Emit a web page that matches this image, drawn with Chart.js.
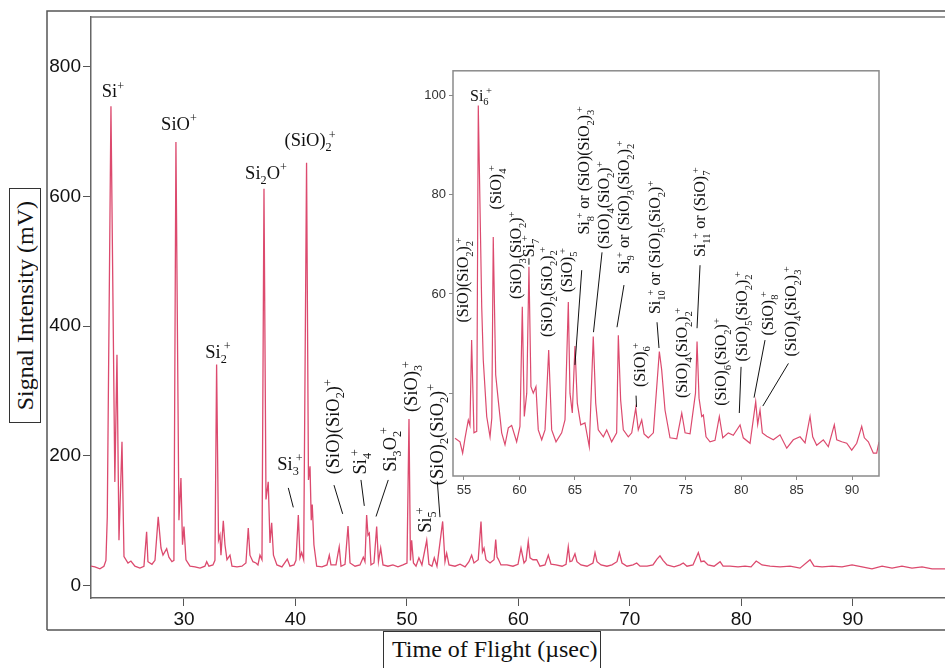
<!DOCTYPE html>
<html><head><meta charset="utf-8">
<script src="https://cdn.jsdelivr.net/npm/chart.js@4.4.0/dist/chart.umd.min.js"></script>
<style>
html,body{margin:0;padding:0;background:#fff;}
#wrap{position:relative;width:945px;height:668px;overflow:hidden;background:#fff;}
#main{position:absolute;left:0;top:0;}
#inset{position:absolute;left:400px;top:60px;}
.ttl{position:absolute;font-family:"Liberation Serif","Times New Roman",serif;color:#111;border:1.5px solid #333;box-sizing:border-box;background:#fff;}
#ytitle{left:9px;top:188px;width:32px;height:235px;display:flex;align-items:center;justify-content:center;}
#ytitle span{writing-mode:vertical-rl;transform:rotate(180deg);font-size:24px;white-space:nowrap;}
#xtitle{left:383px;top:631px;width:218px;height:45px;border-bottom:none;font-size:24px;padding-left:8px;line-height:34px;white-space:nowrap;}
</style></head>
<body>
<div id="wrap">
<canvas id="main" width="945" height="668"></canvas>
<canvas id="inset" width="500" height="450"></canvas>
<div id="ytitle" class="ttl"><span>Signal Intensity (mV)</span></div>
<div id="xtitle" class="ttl">Time of Flight (µsec)</div>
</div>
<script>
// ---------- data ----------
const mainTime = [21.66,22.01,22.46,22.82,23.00,23.12,23.45,23.80,23.99,24.17,24.44,24.62,24.98,25.24,25.60,26.05,26.41,26.65,26.77,27.13,27.40,27.69,27.94,28.12,28.45,28.65,28.92,29.10,29.28,29.55,29.73,29.87,30.00,30.18,30.54,30.99,31.44,31.88,32.04,32.24,32.60,32.78,32.93,33.10,33.23,33.32,33.53,33.68,33.86,34.13,34.31,34.76,35.20,35.56,35.77,35.92,36.19,36.46,36.64,36.82,37.00,37.18,37.36,37.56,37.72,37.87,38.03,38.34,38.79,39.27,39.51,39.87,40.05,40.26,40.41,40.56,40.74,41.00,41.17,41.31,41.42,41.51,41.66,41.91,42.38,42.83,43.04,43.19,43.64,43.93,44.09,44.45,44.72,44.90,45.35,45.79,46.09,46.24,46.39,46.51,46.63,46.78,47.05,47.29,47.45,47.65,47.86,48.30,48.75,49.20,49.65,50.01,50.19,50.32,50.43,50.59,50.82,51.08,51.35,51.78,51.98,52.25,52.46,52.70,53.21,53.42,53.57,53.78,54.32,54.77,55.22,55.57,55.81,56.02,56.40,56.65,56.78,56.92,57.10,57.46,57.82,57.97,58.09,58.20,58.44,58.98,59.52,59.97,60.24,60.51,60.69,60.89,61.05,61.31,61.65,61.94,62.39,62.69,62.93,63.38,63.92,64.28,64.48,64.63,64.81,65.08,65.26,65.62,66.16,66.70,66.88,67.06,67.42,67.95,68.40,68.85,69.06,69.30,69.75,70.29,70.62,70.92,71.55,72.08,72.44,72.71,72.98,73.34,73.97,74.51,74.80,75.13,75.67,76.15,76.39,76.66,77.02,77.56,78.10,78.37,78.99,79.71,80.34,80.88,81.34,81.61,81.86,82.58,83.48,84.38,85.27,86.17,86.53,87.25,88.15,89.04,89.94,90.84,91.73,92.63,93.53,94.42,95.32,96.22,97.12,98.28];
const mainSignal = [30,29,26,30,39,106,739,160,356,70,222,45,35,38,30,27,30,83,37,33,39,106,58,47,57,44,37,39,684,101,166,63,91,40,30,29,27,30,37,30,32,39,341,70,78,47,100,63,40,47,30,29,30,35,89,47,37,35,32,47,40,612,133,160,66,97,47,32,29,41,30,32,39,109,43,51,40,652,163,184,101,125,63,30,29,32,47,32,32,60,30,33,92,35,30,32,44,37,109,78,81,32,35,91,37,58,32,30,32,29,32,35,257,39,70,35,30,43,32,70,33,30,43,30,99,37,50,32,30,33,29,37,47,35,40,99,52,58,40,35,40,71,44,41,32,32,30,33,58,35,39,68,43,40,40,30,32,47,33,32,30,33,60,37,38,49,37,32,30,35,51,37,32,30,32,37,51,35,30,32,35,30,30,32,41,46,39,32,29,32,35,30,32,51,37,38,32,30,37,30,30,29,30,29,38,35,32,30,29,30,27,40,30,29,30,29,32,29,26,30,27,30,27,29,26,26];

const insetTime = [54.19,54.64,54.88,55.09,55.39,55.54,55.69,55.90,56.15,56.29,56.60,56.74,57.05,57.35,57.51,57.64,57.86,58.09,58.40,58.70,59.00,59.30,59.75,60.05,60.26,60.44,60.66,60.86,61.04,61.25,61.49,61.70,62.01,62.31,62.64,62.91,63.30,63.81,64.11,64.41,64.56,64.77,65.01,65.22,65.53,65.91,66.30,66.66,66.88,67.11,67.57,67.87,68.32,68.77,68.92,69.13,69.37,69.82,70.13,70.49,70.72,71.03,71.24,71.62,72.08,72.62,72.83,73.13,73.58,74.19,74.64,74.94,75.39,75.88,76.02,76.20,76.44,76.59,76.83,77.19,77.64,78.03,78.34,78.84,79.29,79.90,80.19,80.80,81.31,81.49,81.70,81.91,82.31,82.90,83.50,84.11,84.70,85.31,85.76,86.21,86.45,86.81,87.41,87.86,88.40,88.62,89.07,89.52,89.97,90.42,90.87,91.11,91.47,91.92,92.22,92.43];
const insetSignal = [30.9,30.2,27.9,30.9,34.6,33.5,50.7,32.0,32.3,98.0,57.4,46.7,35.3,31.2,35.0,71.5,43.7,38.6,32.0,29.6,33.0,33.5,30.2,33.3,57.4,35.3,40.0,65.5,41.3,40.0,41.3,32.6,30.6,32.6,48.7,32.6,30.2,32.0,34.6,58.4,40.0,36.0,49.5,38.0,33.6,34.0,29.2,51.4,38.0,32.6,31.2,32.6,30.2,32.0,51.7,38.6,32.6,31.2,32.0,37.0,32.6,34.6,31.8,31.0,32.0,48.4,44.7,36.6,31.0,30.8,36.0,32.0,31.8,40.0,50.4,39.0,35.3,35.6,31.2,30.2,30.5,35.3,31.0,32.0,31.5,33.6,31.0,29.9,38.3,33.7,36.6,32.0,31.3,30.6,31.6,28.9,30.6,31.2,30.0,35.3,31.2,29.5,30.6,29.2,33.6,30.6,30.2,29.9,28.5,29.9,33.3,31.0,30.2,27.9,27.9,30.2];

const mainXTicks = [30,40,50,60,70,80,90];
const mainYTicks = [0,200,400,600,800];
const insetXTicks = [55,60,65,70,75,80,85,90];
const insetYTicks = [40,60,80,100];
const insetYLabelled = [60,80,100];

// peak annotations (anchor in data units of each chart)
const mainLabels = [
  {t:'Si^{+}', x:23.63, y:762},
  {t:'SiO^{+}', x:29.55, y:712},
  {t:'Si_{2}O^{+}', x:37.36, y:637},
  {t:'(SiO)_{2}^{+}', x:41.31, y:687},
  {t:'Si_{2}^{+}', x:33.05, y:361},
  {t:'Si_{3}^{+}', x:39.51, y:188},
  {t:'(SiO)(SiO_{2})^{+}', x:43.37, y:245, r:1},
  {t:'Si_{4}^{+}', x:45.79, y:191, r:1},
  {t:'Si_{3}O_{2}^{+}', x:48.44, y:210, r:1},
  {t:'(SiO)_{3}^{+}', x:50.37, y:307, r:1},
  {t:'Si_{5}^{+}', x:51.62, y:101, r:1},
  {t:'(SiO)_{2}(SiO_{2})^{+}', x:52.66, y:233, r:1}
];
const mainLeaders = [[39.36,150.7,39.81,120.7],[43.46,155,44.24,110.7],[45.88,163,46.18,123],[48.33,163,47.23,106.6],[52.73,160.6,52.97,105.6]];

const insetLabels = [
  {t:'Si_{6}^{+}', x:56.53, y:100.0},
  {t:'(SiO)(SiO_{2})_{2}^{+}', x:54.91, y:62.8, r:1},
  {t:'(SiO)_{4}^{+}', x:57.89, y:81.5, r:1},
  {t:'(SiO)_{3}(SiO_{2})^{+}', x:59.69, y:67.8, r:1},
  {t:'Si_{7}^{+}', x:60.86, y:69.6, r:1},
  {t:'(SiO)_{2}(SiO_{2})_{2}^{+}', x:62.49, y:60.4, r:1},
  {t:'(SiO)_{5}^{+}', x:64.29, y:64.8, r:1},
  {t:'Si_{8}^{+} or (SiO)(SiO_{2})_{3}^{+}', x:65.82, y:84.9, r:1},
  {t:'(SiO)_{4}(SiO_{2})^{+}', x:67.63, y:77.9, r:1},
  {t:'Si_{9}^{+} or (SiO)_{3}(SiO_{2})_{2}^{+}', x:69.43, y:77.5, r:1},
  {t:'Si_{10}^{+} or (SiO)_{5}(SiO_{2})^{+}', x:72.23, y:69.4, r:1},
  {t:'(SiO)_{6}^{+}', x:70.88, y:45.7, r:1},
  {t:'(SiO)_{4}(SiO_{2})_{2}^{+}', x:74.66, y:48.1, r:1},
  {t:'Si_{11}^{+} or (SiO)_{7}^{+}', x:76.29, y:76.5, r:1},
  {t:'(SiO)_{6}(SiO_{2})^{+}', x:78.18, y:46.3, r:1},
  {t:'(SiO)_{5}(SiO_{2})_{2}^{+}', x:80.08, y:55.5, r:1},
  {t:'(SiO)_{8}^{+}', x:82.42, y:56.1, r:1},
  {t:'(SiO)_{4}(SiO_{2})_{3}^{+}', x:84.5, y:56.5, r:1}
];
const insetLeaders = [[60.86,67.2,60.86,65.9],[65.62,64.8,65.01,45.7],[67.45,68.4,66.68,52.3],[69.43,61.8,68.8,53.3],[72.41,54.3,72.59,49.1],[70.52,39.5,70.56,37.2],[76.29,65.8,76.02,53.1],[79.99,45.3,79.83,36.0],[82.15,50.7,81.16,39.1],[84.26,46.0,81.95,37.4]];

// ---------- drawing helpers ----------
const SERIF = '"Liberation Serif","Times New Roman",serif';
const SANS = '"Liberation Sans",Arial,sans-serif';
const LINE = '#dc4a6e';

function parseRich(str){
  const re = /(_|\^)\{([^}]*)\}|([^_^]+)/g; const out=[]; let m;
  while((m = re.exec(str))){
    if(m[3]) out.push({k:'n', t:m[3]});
    else out.push({k: m[1]==='_'?'sub':'sup', t:m[2]});
  }
  return out;
}
function drawRich(ctx, str, cx, cy, rot, size){
  const segs = parseRich(str); const items=[]; let x=0; let lastSub=null;
  for(const s of segs){
    const fs = s.k==='n' ? size : size*0.66;
    ctx.font = fs+'px '+SERIF;
    const w = ctx.measureText(s.t).width;
    if(s.k==='sup' && lastSub){
      const sx = lastSub.x + lastSub.w*0.5;
      items.push({k:s.k,t:s.t,x:sx,fs}); x = Math.max(x, sx+w); lastSub=null;
    } else {
      const it={k:s.k,t:s.t,x,w,fs}; items.push(it);
      lastSub = s.k==='sub' ? it : null; x += w;
    }
  }
  ctx.save(); ctx.translate(cx,cy); if(rot) ctx.rotate(-Math.PI/2);
  ctx.fillStyle='#111'; ctx.textBaseline='alphabetic'; ctx.textAlign='left';
  const base = size*0.33;
  for(const it of items){
    ctx.font = it.fs+'px '+SERIF;
    const dy = it.k==='sub' ? size*0.28 : (it.k==='sup' ? -size*0.4 : 0);
    ctx.fillText(it.t, it.x - x/2, base+dy);
  }
  ctx.restore();
}
function annotate(chart, labels, leaders, size){
  const ctx=chart.ctx, xs=chart.scales.x, ys=chart.scales.y;
  ctx.save(); ctx.strokeStyle='#111'; ctx.lineWidth=1;
  for(const l of leaders){
    ctx.beginPath(); ctx.moveTo(xs.getPixelForValue(l[0]), ys.getPixelForValue(l[1]));
    ctx.lineTo(xs.getPixelForValue(l[2]), ys.getPixelForValue(l[3])); ctx.stroke();
  }
  ctx.restore();
  for(const l of labels) drawRich(ctx, l.t, xs.getPixelForValue(l.x), ys.getPixelForValue(l.y), !!l.r, size);
}
const pts = (xs, ys) => xs.map((v,i)=>({x:v, y:ys[i]}));

// ---------- main chart ----------
new Chart(document.getElementById('main'), {
  type:'line',
  data:{datasets:[{data:pts(mainTime, mainSignal), borderColor:LINE, borderWidth:1.3, pointRadius:0, tension:0, fill:false}]},
  options:{
    responsive:false, animation:false, devicePixelRatio:1,
    layout:{padding:{left:0,right:0,top:17,bottom:0}},
    plugins:{legend:{display:false}, tooltip:{enabled:false}},
    scales:{
      x:{type:'linear', min:21.66, max:98.28,
        afterBuildTicks:s=>{s.ticks = mainXTicks.map(v=>({value:v}));},
        afterFit:s=>{s.height=70;},
        grid:{drawOnChartArea:false, drawTicks:true, tickLength:8, color:'#555', lineWidth:1},
        border:{display:true, color:'#666', width:1.5},
        ticks:{font:{family:SANS, size:19}, color:'#111', padding:2, maxRotation:0, autoSkip:false}},
      y:{type:'linear', min:-19, max:876.6,
        afterBuildTicks:s=>{s.ticks = mainYTicks.map(v=>({value:v}));},
        afterFit:s=>{s.width=91;},
        grid:{drawOnChartArea:false, drawTicks:true, tickLength:8, color:'#555', lineWidth:1},
        border:{display:true, color:'#666', width:1.5},
        ticks:{font:{family:SANS, size:19}, color:'#111', padding:2}}
    }
  },
  plugins:[{id:'deco', afterDraw(chart){
    const ctx=chart.ctx, a=chart.chartArea;
    ctx.save();
    ctx.strokeStyle='#777'; ctx.lineWidth=1.5;
    ctx.beginPath(); ctx.moveTo(a.left, a.top); ctx.lineTo(945, a.top); ctx.stroke();
    ctx.strokeStyle='#555'; ctx.lineWidth=1.5;
    ctx.beginPath(); ctx.moveTo(47, 630); ctx.lineTo(47, 11); ctx.lineTo(945, 11); ctx.stroke();
    ctx.beginPath(); ctx.moveTo(47, 630); ctx.lineTo(945, 630); ctx.stroke();
    ctx.restore();
    annotate(chart, mainLabels, mainLeaders, 18.5);
  }}]
});

// ---------- inset chart ----------
new Chart(document.getElementById('inset'), {
  type:'line',
  data:{datasets:[{data:pts(insetTime, insetSignal), borderColor:LINE, borderWidth:1.2, pointRadius:0, tension:0, fill:false}]},
  options:{
    responsive:false, animation:false, devicePixelRatio:1,
    layout:{padding:{left:0,right:21,top:10,bottom:0}},
    plugins:{legend:{display:false}, tooltip:{enabled:false}},
    scales:{
      x:{type:'linear', min:54.01, max:92.43,
        afterBuildTicks:s=>{s.ticks = insetXTicks.map(v=>({value:v}));},
        afterFit:s=>{s.height=34;},
        grid:{drawOnChartArea:false, drawTicks:true, tickLength:4, color:'#888'},
        border:{display:false},
        ticks:{font:{family:SANS, size:13}, color:'#333', padding:3, maxRotation:0, autoSkip:false}},
      y:{type:'linear', min:23.3, max:105.0,
        afterBuildTicks:s=>{s.ticks = insetYTicks.map(v=>({value:v}));},
        afterFit:s=>{s.width=53;},
        grid:{drawOnChartArea:false, drawTicks:true, tickLength:4, color:'#888'},
        border:{display:false},
        ticks:{font:{family:SANS, size:13}, color:'#333', padding:3,
          callback:v=> insetYLabelled.includes(v) ? String(v) : ''}}
    }
  },
  plugins:[{id:'insetDeco',
    beforeDraw(chart){ const c=chart.ctx, a=chart.chartArea; c.save(); c.fillStyle='#fff'; c.fillRect(a.left,a.top,a.right-a.left,a.bottom-a.top); c.restore(); },
    afterDraw(chart){
      const c=chart.ctx, a=chart.chartArea;
      c.save(); c.strokeStyle='#8a8a8a'; c.lineWidth=1.5; c.strokeRect(a.left,a.top,a.right-a.left,a.bottom-a.top); c.restore();
      annotate(chart, insetLabels, insetLeaders, 16);
    }}]
});
</script>
</body></html>
